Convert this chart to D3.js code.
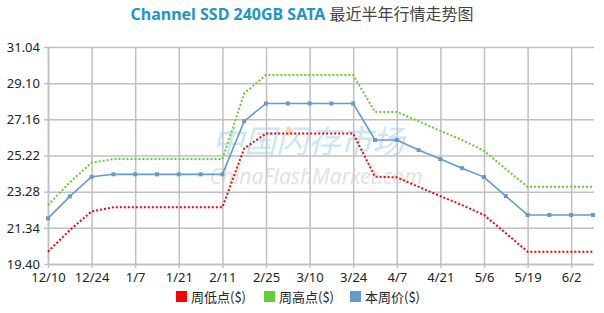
<!DOCTYPE html>
<html>
<head>
<meta charset="utf-8">
<script src="https://cdn.jsdelivr.net/npm/d3@7"></script>
<style>
    body { margin: 0; background: #fff; }
    svg text { font-family: "Noto Sans", "Noto Sans CJK SC", sans-serif; }
    .grid line { stroke: #c0c0c0; stroke-width: 1.5px; }
    .grid .domain { display: none; }
    .ticks .domain { stroke: #c0c0c0; stroke-width: 1.5px; }
    .ticks line { stroke: #c0c0c0; stroke-width: 1.5px; }
    .ticks text { fill: #222; font-size: 13px; }
</style>
</head>
<body>
<div id="chart"></div>
<script>
// chart data
const dates = ["12/10", "12/17", "12/24", "12/31", "1/7", "1/14", "1/21", "1/28", "2/11", "2/18",
    "2/25", "3/3", "3/10", "3/17", "3/24", "3/31", "4/7", "4/14", "4/21", "4/28",
    "5/6", "5/12", "5/19", "5/26", "6/2", "6/9"];
const lowValues = [20.06, 21.22, 22.22, 22.44, 22.44, 22.44, 22.44, 22.44, 22.44, 25.60,
    26.40, 26.40, 26.40, 26.40, 26.40, 24.08, 24.05, 23.54, 23.04, 22.56,
    22.03, 21.05, 20.06, 20.06, 20.06, 20.06];
const highValues = [22.56, 23.78, 24.83, 25.03, 25.03, 25.03, 25.03, 25.03, 25.03, 28.55,
    29.54, 29.54, 29.54, 29.54, 29.54, 27.56, 27.56, 27.06, 26.54, 26.05,
    25.47, 24.50, 23.54, 23.54, 23.54, 23.54];
const priceValues = [21.85, 23.03, 24.08, 24.21, 24.21, 24.21, 24.21, 24.21, 24.21, 27.06,
    28.01, 28.01, 28.01, 28.01, 28.01, 26.05, 26.05, 25.51, 25.03, 24.54,
    24.06, 23.04, 22.03, 22.03, 22.03, 22.03];
const yTicks = [19.40, 21.34, 23.28, 25.22, 27.16, 29.10, 31.04];
const seriesNames = ["周低点($)", "周高点($)", "本周价($)"];
const seriesColors = ["#ff0000", "#66cc33", "#6699cc"];

const W = 604, H = 313;
const mLeft = 48, mRight = 593, mTop = 47, mBottom = 264;

const svg = d3.select("#chart").append("svg")
    .attr("width", W)
    .attr("height", H);

// scales
const x = d3.scalePoint().domain(dates).range([mLeft, mRight]);
const y = d3.scaleLinear().domain([19.40, 31.04]).range([mBottom, mTop]);
const labelDates = dates.filter((d, i) => i % 2 === 0);

// grid
svg.append("g")
    .attr("class", "grid")
    .attr("transform", "translate(" + mLeft + ",0)")
    .call(d3.axisLeft(y).tickValues(yTicks).tickSize(-(mRight + 1 - mLeft)).tickFormat(""));
svg.append("g")
    .attr("class", "grid")
    .attr("transform", "translate(0," + mBottom + ")")
    .call(d3.axisBottom(x).tickValues(labelDates).tickSize(-(mBottom - mTop)).tickFormat(""));

// axes
svg.append("g")
    .attr("class", "ticks")
    .attr("transform", "translate(" + mLeft + ",0)")
    .call(d3.axisLeft(y).tickValues(yTicks).tickSize(4).tickSizeOuter(0).tickFormat(d3.format(".2f")))
    .selectAll("text").attr("dx", "-1");
svg.append("g")
    .attr("class", "ticks")
    .attr("transform", "translate(0," + mBottom + ")")
    .call(d3.axisBottom(x).tickValues(labelDates).tickSize(4).tickSizeOuter(0))
    .selectAll("text").attr("dy", "0.85em");

// watermark
svg.append("text")
    .attr("x", 308).attr("y", 153)
    .attr("text-anchor", "middle")
    .style("font-size", "32px")
    .style("font-style", "italic")
    .style("fill", "#9fd3ef")
    .style("opacity", 0.55)
    .text("中国闪存市场");
svg.append("text")
    .attr("x", 316).attr("y", 184)
    .attr("text-anchor", "middle")
    .style("font-size", "21px")
    .style("font-style", "italic")
    .style("fill", "#d0d0d0")
    .style("opacity", 0.6)
    .text("ChinaFlashMarket.com");
svg.append("circle")
    .attr("cx", 289).attr("cy", 131).attr("r", 4)
    .attr("fill", "#fbc98a").attr("opacity", 0.6);

// lines
const line = d3.line().x((d, i) => x(dates[i])).y(d => y(d));
const series = [
    { values: lowValues, color: seriesColors[0], dash: "2,2", marker: false },
    { values: highValues, color: seriesColors[1], dash: "2,2", marker: false },
    { values: priceValues, color: seriesColors[2], dash: null, marker: true }
];

series.forEach(s => {
    svg.append("path")
        .datum(s.values)
        .attr("fill", "none")
        .attr("stroke", s.color)
        .attr("stroke-width", s.marker ? 1.6 : 2)
        .attr("stroke-dasharray", s.dash)
        .attr("d", line);
    if (s.marker) {
        svg.selectAll(null)
            .data(s.values)
            .enter().append("rect")
            .attr("x", (d, i) => x(dates[i]) - 2)
            .attr("y", d => y(d) - 2)
            .attr("width", 4)
            .attr("height", 4)
            .attr("fill", s.color);
    }
});

// title
const title = svg.append("text")
    .attr("x", W / 2)
    .attr("y", 20)
    .attr("text-anchor", "middle")
    .style("font-size", "16px")
    .style("font-weight", "bold");
title.append("tspan").style("fill", "#2196c6").text("Channel SSD 240GB SATA ");
title.append("tspan").style("fill", "#444").style("font-weight", "normal")
    .style("font-family", "'Noto Sans CJK SC', sans-serif").text("最近半年行情走势图");

// legend
const legendX = [176, 264, 350];
seriesNames.forEach((n, i) => {
    svg.append("rect")
        .attr("x", legendX[i]).attr("y", 291)
        .attr("width", 11).attr("height", 11)
        .attr("fill", seriesColors[i]);
    svg.append("text")
        .attr("x", legendX[i] + 15).attr("y", 302)
        .style("font-size", "13px")
        .style("fill", "#222")
        .style("font-family", "'Noto Sans CJK SC', sans-serif")
        .text(n);
});
</script>
</body>
</html>
